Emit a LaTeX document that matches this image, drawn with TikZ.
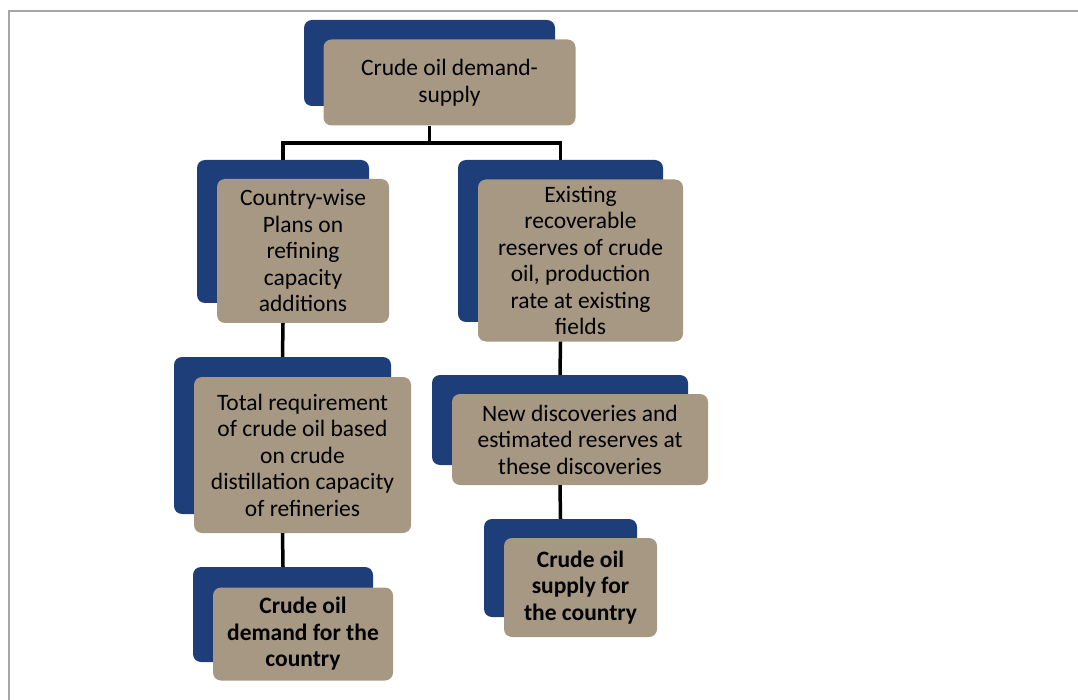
\documentclass[tikz,border=0pt]{standalone}
\usepackage{fontspec}
\setmainfont{Carlito}
\definecolor{backblue}{RGB}{30,62,122}
\definecolor{fronttan}{RGB}{166,152,131}
\definecolor{framegray}{RGB}{166,166,166}
\begin{document}
\begin{tikzpicture}[x=1pt,y=-1pt,
  backbox/.style={fill=backblue, draw=none, rounded corners=8pt, inner sep=0pt},
  frontbox/.style={fill=fronttan, draw=none, rounded corners=8pt, inner sep=0pt,
    align=center, font=\fontsize{23.5}{26.5}\selectfont},
  boldtext/.style={font=\fontsize{23.5}{26.5}\selectfont\bfseries},
  link/.style={draw=black, line width=3.5pt}]
\useasboundingbox (0,0) rectangle (1078,700);
% outer frame (top and left edges visible)
\draw[framegray, line width=2pt] (1078,11.5) -- (8.5,11.5) -- (8.5,700);

% back (blue) panels
\node[backbox, minimum width=251pt, minimum height=86pt]  (rootB) at (429.5,63) {};
\node[backbox, minimum width=172pt, minimum height=143pt] (cwB)   at (283,231.5) {};
\node[backbox, minimum width=205pt, minimum height=162pt] (exB)   at (560.5,241) {};
\node[backbox, minimum width=217pt, minimum height=157pt] (trB)   at (282.5,435.5) {};
\node[backbox, minimum width=256pt, minimum height=90pt]  (ndB)   at (560,420) {};
\node[backbox, minimum width=180pt, minimum height=95pt]  (dmB)   at (283,614.5) {};
\node[backbox, minimum width=153pt, minimum height=98pt]  (spB)   at (560.5,568) {};

% front (tan) panels with the text
\node[frontbox, minimum width=252pt, minimum height=86pt] (root)
  at ([shift={(20,19.5)}]rootB.center) {Crude oil demand-\\supply};
\node[frontbox, minimum width=172pt, minimum height=144pt] (cw)
  at ([shift={(20,19.5)}]cwB.center) {Country-wise\\Plans on\\refining\\capacity\\additions};
\node[frontbox, minimum width=205pt, minimum height=162pt] (ex)
  at ([shift={(20,19.5)}]exB.center) {Existing\\recoverable\\reserves of crude\\oil, production\\rate at existing\\fields};
\node[frontbox, minimum width=217pt, minimum height=156pt] (tr)
  at ([shift={(20,19.5)}]trB.center) {Total requirement\\of crude oil based\\on crude\\distillation capacity\\of refineries};
\node[frontbox, minimum width=256pt, minimum height=91pt] (nd)
  at ([shift={(20,19.5)}]ndB.center) {New discoveries and\\estimated reserves at\\these discoveries};
\node[frontbox, boldtext, minimum width=180pt, minimum height=93pt] (dm)
  at ([shift={(20,19.5)}]dmB.center) {Crude oil\\demand for the\\country};
\node[frontbox, boldtext, minimum width=153pt, minimum height=99pt] (sp)
  at ([shift={(20,19.5)}]spB.center) {Crude oil\\supply for\\the country};

% connectors
\coordinate (split) at (rootB.center |- 0,143);
\draw[link] (root.south -| rootB.center) -- (split);
\draw[link] (cwB.north) -- (cwB.north |- split) -- (exB.north |- split) -- (exB.north);
\draw[link] (cw.south -| cwB.center) -- (trB.north);
\draw[link] (tr.south -| trB.center) -- (dmB.north);
\draw[link] (ex.south -| exB.center) -- (ndB.north);
\draw[link] (nd.south -| ndB.center) -- (spB.north);
\end{tikzpicture}
\end{document}
